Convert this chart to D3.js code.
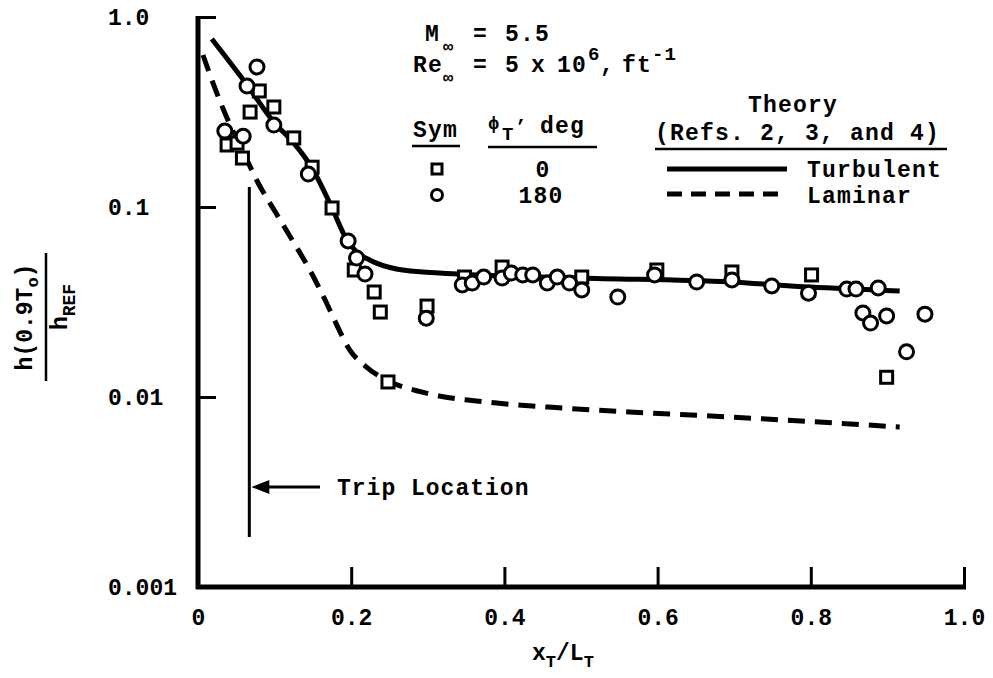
<!DOCTYPE html>
<html>
<head>
<meta charset="utf-8">
<title>Heat transfer distribution</title>
<script src="https://d3js.org/d3.v7.min.js"></script>
<style>
  html, body { margin:0; padding:0; background:#fff; }
  svg { display:block; }
  text { font-family: "Liberation Mono", "Courier New", monospace; font-weight: bold; fill:#000; }
</style>
</head>
<body>
<div id="chart"></div>
<script>
// axis ticks
var xTicks = [0, 0.2, 0.4, 0.6, 0.8, 1.0];
var xTickLabels = ['0', '0.2', '0.4', '0.6', '0.8', '1.0'];
var yTicks = [1, 0.1, 0.01, 0.001];
var yTickLabels = ['1.0', '0.1', '0.01', '0.001'];

// theory (refs 2, 3 and 4)
var turbX = [0.018, 0.064, 0.099, 0.125, 0.149, 0.175, 0.193, 0.207, 0.224, 0.259, 0.315, 0.498, 0.694, 0.799, 0.916];
var turbY = [0.766, 0.439, 0.280, 0.217, 0.160, 0.0988, 0.0687, 0.058, 0.0526, 0.0472, 0.0449, 0.0423, 0.0403, 0.0379, 0.0361];
var lamX = [0.0065, 0.022, 0.039, 0.059, 0.078, 0.101, 0.123, 0.146, 0.166, 0.183, 0.198, 0.218, 0.249, 0.293, 0.390, 0.476, 0.563, 0.694, 0.916];
var lamY = [0.631, 0.423, 0.287, 0.195, 0.135, 0.0941, 0.067, 0.0466, 0.0324, 0.0231, 0.0177, 0.0146, 0.0121, 0.0106, 0.0093, 0.00875, 0.00834, 0.00785, 0.00695];

// phi_T = 0 deg (squares)
var sqX = [0.038, 0.051, 0.058, 0.068, 0.080, 0.099, 0.125, 0.149, 0.175, 0.204, 0.230, 0.238, 0.248, 0.299, 0.348, 0.397, 0.501, 0.599, 0.697, 0.801, 0.899];
var sqY = [0.212, 0.217, 0.181, 0.316, 0.408, 0.336, 0.231, 0.162, 0.0988, 0.0466, 0.0357, 0.028, 0.012, 0.0301, 0.0428, 0.0483, 0.0428, 0.0466, 0.0455, 0.0439, 0.0127];

// phi_T = 180 deg (circles)
var circX = [0.035, 0.059, 0.064, 0.077, 0.099, 0.144, 0.196, 0.207, 0.218, 0.298, 0.345, 0.358, 0.373, 0.397, 0.409, 0.424, 0.437, 0.456, 0.469, 0.485, 0.501, 0.548, 0.596, 0.651, 0.697, 0.749, 0.797, 0.847, 0.859, 0.888, 0.868, 0.878, 0.899, 0.949, 0.925];
var circY = [0.251, 0.236, 0.433, 0.546, 0.270, 0.149, 0.0663, 0.0539, 0.0444, 0.026, 0.0389, 0.0398, 0.0428, 0.0423, 0.0449, 0.0439, 0.0439, 0.0398, 0.0428, 0.0398, 0.0366, 0.0336, 0.0439, 0.0403, 0.0413, 0.0384, 0.0352, 0.037, 0.037, 0.0375, 0.0277, 0.0245, 0.0267, 0.0273, 0.0173];

var tripX = 0.067;

var W = 993, H = 678;
var svg = d3.select('#chart').append('svg').attr('width', W).attr('height', H);

var x = d3.scaleLinear().domain([0, 1]).range([198, 964]);
var y = d3.scaleLog().domain([0.001, 1]).range([587, 17]);

// axes
var gx = svg.append('g').attr('transform', 'translate(0,587)')
    .call(d3.axisBottom(x).tickValues(xTicks)
        .tickFormat(function(d, i){ return xTickLabels[i]; })
        .tickSize(-20).tickSizeOuter(0).tickPadding(22));
var gy = svg.append('g').attr('transform', 'translate(198,0)')
    .call(d3.axisLeft(y).tickValues(yTicks)
        .tickFormat(function(d, i){ return yTickLabels[i]; })
        .tickSize(-18).tickSizeOuter(0));
[gx, gy].forEach(function(g){
    g.select('.domain').remove();
    g.selectAll('line').attr('stroke', '#000').attr('stroke-width', 3);
    g.selectAll('text').attr('font-size', 23).attr('font-family', null);
});
gy.selectAll('text').attr('text-anchor', 'start').attr('x', -90);

svg.append('line').attr('x1', 196).attr('x2', 966).attr('y1', 587).attr('y2', 587)
    .attr('stroke', '#000').attr('stroke-width', 5);
svg.append('line').attr('x1', 198).attr('x2', 198).attr('y1', 16).attr('y2', 589)
    .attr('stroke', '#000').attr('stroke-width', 5);

// axis titles
var yl = svg.append('g').attr('transform', 'translate(0,317) rotate(-90)');
var num = yl.append('text').attr('x', 0).attr('y', 32).attr('text-anchor', 'middle').attr('font-size', 23);
num.append('tspan').text('h(0.9T');
num.append('tspan').attr('font-size', 17).attr('dy', 6).text('o');
num.append('tspan').attr('dy', -6).text(')');
yl.append('line').attr('x1', -64).attr('x2', 64).attr('y1', 46).attr('y2', 46)
    .attr('stroke', '#000').attr('stroke-width', 2.5);
var den = yl.append('text').attr('x', 10).attr('y', 67).attr('text-anchor', 'middle').attr('font-size', 23);
den.append('tspan').text('h');
den.append('tspan').attr('font-size', 18).attr('dy', 8).text('REF');

var xl = svg.append('text').attr('x', 532).attr('y', 660).attr('font-size', 23);
xl.append('tspan').text('x');
xl.append('tspan').attr('font-size', 17).attr('dy', 7).text('T');
xl.append('tspan').attr('dy', -7).text('/L');
xl.append('tspan').attr('font-size', 17).attr('dy', 7).text('T');

// theory curves
var line = d3.line().x(function(d){ return x(d[0]); }).y(function(d){ return y(d[1]); })
    .curve(d3.curveMonotoneX);
svg.append('path').datum(d3.zip(lamX, lamY)).attr('d', line)
    .attr('fill', 'none').attr('stroke', '#000').attr('stroke-width', 5)
    .attr('stroke-dasharray', '17,10');
svg.append('path').datum(d3.zip(turbX, turbY)).attr('d', line)
    .attr('fill', 'none').attr('stroke', '#000').attr('stroke-width', 5);

// trip location
svg.append('line').attr('x1', x(tripX)).attr('x2', x(tripX)).attr('y1', 187).attr('y2', 537)
    .attr('stroke', '#000').attr('stroke-width', 3);
svg.append('line').attr('x1', x(tripX) + 14).attr('x2', 320).attr('y1', 487).attr('y2', 487)
    .attr('stroke', '#000').attr('stroke-width', 3);
svg.append('path')
    .attr('d', 'M' + (x(tripX) + 2) + ',487L' + (x(tripX) + 20) + ',480L' + (x(tripX) + 20) + ',494Z')
    .attr('fill', '#000');
svg.append('text').attr('x', 337).attr('y', 495).attr('font-size', 23)
    .attr('letter-spacing', 1).text('Trip Location');

// data symbols
svg.selectAll('rect.sq').data(d3.zip(sqX, sqY)).enter().append('rect')
    .attr('class', 'sq')
    .attr('x', function(d){ return x(d[0]) - 6; })
    .attr('y', function(d){ return y(d[1]) - 6; })
    .attr('width', 12).attr('height', 12)
    .attr('fill', '#fff').attr('stroke', '#000').attr('stroke-width', 3);
svg.selectAll('circle.ci').data(d3.zip(circX, circY)).enter().append('circle')
    .attr('class', 'ci')
    .attr('cx', function(d){ return x(d[0]); })
    .attr('cy', function(d){ return y(d[1]); })
    .attr('r', 7)
    .attr('fill', '#fff').attr('stroke', '#000').attr('stroke-width', 3);

// legend
var lg = svg.append('g').attr('font-size', 23).attr('letter-spacing', 1.2);
var t1 = lg.append('text').attr('y', 41);
t1.append('tspan').attr('x', 425).text('M');
t1.append('tspan').attr('x', 443).attr('dy', 11).attr('font-size', 17).text('\u221e');
t1.append('tspan').attr('x', 473).attr('dy', -11).text('=');
t1.append('tspan').attr('x', 505).text('5.5');

var t2 = lg.append('text').attr('y', 72);
t2.append('tspan').attr('x', 413).text('Re');
t2.append('tspan').attr('x', 443).attr('dy', 11).attr('font-size', 17).text('\u221e');
t2.append('tspan').attr('x', 473).attr('dy', -11).text('=');
t2.append('tspan').attr('x', 505).text('5');
t2.append('tspan').attr('x', 531).text('x');
t2.append('tspan').attr('x', 557).text('10');
t2.append('tspan').attr('x', 588).attr('dy', -12).attr('font-size', 19).text('6');
t2.append('tspan').attr('x', 600).attr('dy', 12).text(',');
t2.append('tspan').attr('x', 622).text('ft');
t2.append('tspan').attr('x', 652).attr('dy', -12).attr('font-size', 19).text('-1');

lg.append('text').attr('x', 413).attr('y', 137).text('Sym');
var t3 = lg.append('text').attr('y', 133);
t3.append('tspan').attr('x', 488).attr('dy', -4).attr('font-size', 19).text('\u03d5');
t3.append('tspan').attr('x', 502).attr('dy', 11).attr('font-size', 19).text('T');
t3.append('tspan').attr('x', 515).attr('dy', -8).attr('font-size', 19).text('\u2019');
t3.append('tspan').attr('x', 540).attr('dy', 1).text('deg');
lg.append('line').attr('x1', 412).attr('x2', 460).attr('y1', 146).attr('y2', 146)
    .attr('stroke', '#000').attr('stroke-width', 2.5);
lg.append('line').attr('x1', 488).attr('x2', 597).attr('y1', 147).attr('y2', 147)
    .attr('stroke', '#000').attr('stroke-width', 2.5);

lg.append('rect').attr('x', 432).attr('y', 164).attr('width', 10).attr('height', 10)
    .attr('fill', '#fff').attr('stroke', '#000').attr('stroke-width', 3);
lg.append('circle').attr('cx', 437).attr('cy', 195).attr('r', 5.5)
    .attr('fill', '#fff').attr('stroke', '#000').attr('stroke-width', 3);
lg.append('text').attr('x', 543).attr('y', 177).attr('text-anchor', 'middle').text('0');
lg.append('text').attr('x', 541).attr('y', 203).attr('text-anchor', 'middle').text('180');

lg.append('text').attr('x', 793).attr('y', 112).attr('text-anchor', 'middle').text('Theory');
lg.append('text').attr('x', 655).attr('y', 140).text('(Refs. 2, 3, and 4)');
lg.append('line').attr('x1', 655).attr('x2', 947).attr('y1', 149).attr('y2', 149)
    .attr('stroke', '#000').attr('stroke-width', 2.5);
lg.append('line').attr('x1', 667).attr('x2', 787).attr('y1', 169).attr('y2', 169)
    .attr('stroke', '#000').attr('stroke-width', 5);
lg.append('line').attr('x1', 667).attr('x2', 787).attr('y1', 194).attr('y2', 194)
    .attr('stroke', '#000').attr('stroke-width', 5).attr('stroke-dasharray', '15,9');
lg.append('text').attr('x', 807).attr('y', 177).text('Turbulent');
lg.append('text').attr('x', 807).attr('y', 203).text('Laminar');
</script>
</body>
</html>
